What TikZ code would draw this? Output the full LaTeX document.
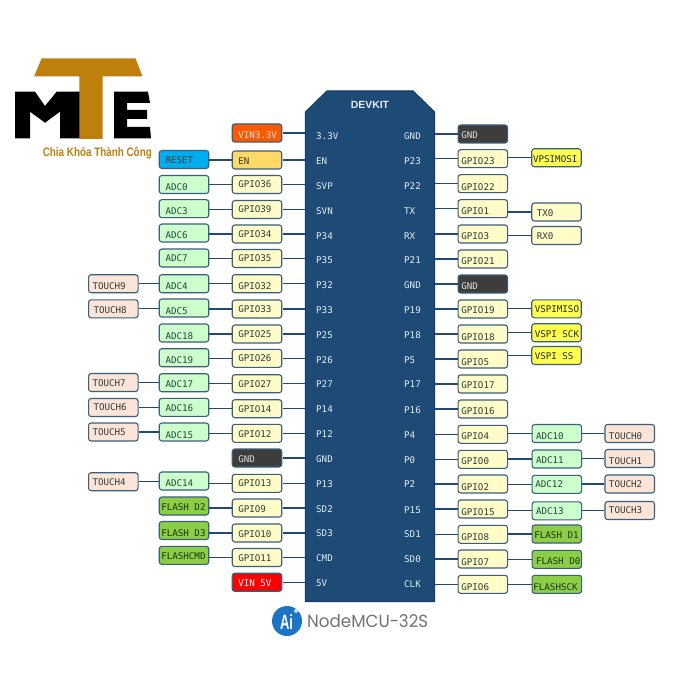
\documentclass[tikz,border=0pt]{standalone}
\usepackage{fontspec}
\usepackage{graphicx}
\setmainfont{Liberation Sans}
\setmonofont{DejaVu Sans Mono}
\newfontfamily\nmcufont{Poppins}
\definecolor{boardc}{HTML}{1D4B76}
\definecolor{boardl}{HTML}{123F6B}
\definecolor{edgec}{HTML}{3A5F7C}
\definecolor{wirec}{HTML}{1F4A78}
\definecolor{txtc}{HTML}{2E3B3B}
\definecolor{adctxt}{HTML}{24473A}
\definecolor{flashtxt}{HTML}{1C3310}
\definecolor{pinc}{HTML}{E6EDF2}
\definecolor{logoc}{HTML}{BE7F0C}
\definecolor{tchc}{HTML}{FCE4D6}
\definecolor{flashc}{HTML}{8CCF47}
\definecolor{yelc}{HTML}{FFFF4D}
\definecolor{enc}{HTML}{FFD966}
\definecolor{resc}{HTML}{00AEEF}
\definecolor{aic}{HTML}{1B75C4}
\newcommand{\lbl}[3]{\makebox[49.5pt][l]{\hspace*{#1pt}\raisebox{-#2pt}{#3}}}
\tikzset{
 anybox/.style={draw=edgec,line width=1.1pt,rounded corners=2.6pt,minimum width=49.5pt,minimum height=18pt,inner sep=0pt,text height=7pt,text depth=0.3pt,font=\ttfamily\fontsize{9.2}{10}\selectfont,text=txtc},
 gp/.style={anybox,fill=yellow!22},
 adcb/.style={anybox,fill=green!20,text=adctxt},
 tchb/.style={anybox,fill=tchc},
 flb/.style={anybox,fill=flashc,text=flashtxt},
 yelb/.style={anybox,fill=yelc,text=black!85},
 gndb/.style={anybox,fill=black!76,text=white!88!black},
 vinb/.style={anybox,fill=orange!70!red,text=white!90!black,line width=1.2pt},
 vinfb/.style={anybox,fill=red,text=white,line width=1.2pt},
 enb/.style={anybox,fill=enc},
 resetb/.style={anybox,fill=resc},
 pinl/.style={anchor=base west,inner sep=0pt,yshift=-0.5pt,text=pinc,font=\ttfamily\fontsize{9.2}{10}\selectfont},
 wire/.style={draw=wirec,line width=1.2pt},
 wirel/.style={wire,shorten <=1pt},
}
\begin{document}
\begin{tikzpicture}[x=1pt,y=-1pt]
\useasboundingbox (0,0) rectangle (700,700);
\fill[white] (0,0) rectangle (700,700);
% logo
\fill[black] (15,91.7) -- (35,91.7) -- (45,106) -- (56.7,91.7) -- (85,91.7) -- (85,138.3) -- (60,138.3) -- (60,111.7) -- (45,122.7) -- (30,111.7) -- (30,138.3) -- (15,138.3) -- cycle;
\fill[black] (114,91.7) -- (148,91.7) -- (150,103) -- (127,103) -- (127,110) -- (147,110) -- (147,119) -- (127,119) -- (127,127) -- (150,127) -- (151,138.3) -- (114,138.3) -- cycle;
\fill[logoc] (41.7,58.3) -- (135.5,58.3) -- (142.5,76.5) -- (102.7,76.5) -- (102.7,138.8) -- (79.3,138.8) -- (79.3,76.5) -- (34,76.5) -- cycle;
\node[inner sep=0pt,text=logoc] (slogan) at (97.3,153.5) {\resizebox{109pt}{9.2pt}{\bfseries Chia Khóa Thành Công}};
% board
\fill[boardc,draw=boardl,line width=1.2pt] (305.5,112) -- (327,91) -- (413,91) -- (434.5,112) -- (434.5,601.5) -- (305.5,601.5) -- cycle;
\node[minimum width=129pt,minimum height=510.5pt,inner sep=0pt] (board) at (370,346.3) {};
\node[inner sep=0pt,text=pinc,font=\bfseries\fontsize{10.4}{11}\selectfont] (devkit) at (370,104.5) {DEVKIT};
% pin names, left
\foreach \t/\y/\n in {3.3V/139/a,EN/164/b,SVP/189/c,SVN/214/d,P34/239/e,P35/263/f,P32/288/g,P33/313/h,P25/338/i,P26/363/j,P27/387/k,P14/412/l,P12/437/m,GND/462/n,P13/487/o,SD2/512/p,SD3/536/q,CMD/561/r,5V/586/s}
  \node[pinl] (pl\n) at (316,\y) {\t};
% pin names, right
\foreach \t/\y/\n in {GND/139/a,P23/164/b,P22/189/c,TX/214/d,RX/239/e,P21/263/f,GND/288/g,P19/313/h,P18/338/i,P5/363/j,P17/387/k,P16/413/l,P4/438/m,P0/463/n,P2/487/o,P15/513/p,SD1/537/q,SD0/562/r,CLK/587/s}
  \node[pinl] (pr\n) at (404,\y) {\t};
% left column: next to board
\node[vinb]  (la) at (257,133)   {\lbl{6}{2}{VIN3.3V}};
\node[enb]   (lb) at (257,160)   {\lbl{6}{1}{EN}};
\node[gp]    (lc) at (257,184.5) {\lbl{6}{0}{GPIO36}};
\node[gp]    (ld) at (257,209.5) {\lbl{6}{0}{GPIO39}};
\node[gp]    (le) at (257,234)   {\lbl{6}{0}{GPIO34}};
\node[gp]    (lf) at (257,258.5) {\lbl{6}{0}{GPIO35}};
\node[gp]    (lg) at (257,283.7) {\lbl{6}{2}{GPIO32}};
\node[gp]    (lh) at (257,309)   {\lbl{6}{0}{GPIO33}};
\node[gp]    (li) at (257,334)   {\lbl{6}{0}{GPIO25}};
\node[gp]    (lj) at (257,358.3) {\lbl{6}{0}{GPIO26}};
\node[gp]    (lk) at (257,383.7) {\lbl{6}{0}{GPIO27}};
\node[gp]    (ll) at (257,408.7) {\lbl{6}{0}{GPIO14}};
\node[gp]    (lm) at (257,433.3) {\lbl{6}{1}{GPIO12}};
\node[gndb]  (ln) at (257,458)   {\lbl{6}{1}{GND}};
\node[gp]    (lo) at (257,483.3) {\lbl{6}{0}{GPIO13}};
\node[gp]    (lp) at (257,508)   {\lbl{6}{1.3}{GPIO9}};
\node[gp]    (lq) at (257,533)   {\lbl{6}{0.7}{GPIO10}};
\node[gp]    (lr) at (257,557.5) {\lbl{6}{1}{GPIO11}};
\node[vinfb] (ls) at (257,582.3) {\lbl{6}{0.7}{VIN 5V}};
% left column: second
\node[resetb] (mb) at (184,159.5) {\lbl{6.3}{1}{RESET}};
\node[adcb] (mc) at (184,184.5) {\lbl{6.3}{2.7}{ADC0}};
\node[adcb] (md) at (184,208.7) {\lbl{6.3}{2.3}{ADC3}};
\node[adcb] (me) at (184,233)   {\lbl{6.3}{2.5}{ADC6}};
\node[adcb] (mf) at (184,258)   {\lbl{6.3}{0.5}{ADC7}};
\node[adcb] (mg) at (184,283.7) {\lbl{6.3}{2}{ADC4}};
\node[adcb] (mh) at (184,308)   {\lbl{6.3}{2.7}{ADC5}};
\node[adcb] (mi) at (184,333)   {\lbl{6.3}{2.7}{ADC18}};
\node[adcb] (mj) at (184,357.7) {\lbl{6.3}{2.3}{ADC19}};
\node[adcb] (mk) at (184,382.7) {\lbl{6.3}{1.7}{ADC17}};
\node[adcb] (ml) at (184,407.3) {\lbl{6.3}{1}{ADC16}};
\node[adcb] (mm) at (184,432)   {\lbl{6.3}{2.7}{ADC15}};
\node[adcb] (mo) at (184,481)   {\lbl{6.3}{2.3}{ADC14}};
\node[flb]  (mp) at (184,506)   {\lbl{2}{0.7}{FLASH D2}};
\node[flb]  (mq) at (184,530.5) {\lbl{2}{2.3}{FLASH D3}};
\node[flb]  (mr) at (184,555.3) {\lbl{2}{0.7}{FLASHCMD}};
% left column: outer
\node[tchb] (tg) at (113.3,283.7) {\lbl{4}{2.3}{TOUCH9}};
\node[tchb] (th) at (113.3,308.8) {\lbl{5}{1.8}{TOUCH8}};
\node[tchb] (tk) at (113.3,382.5) {\lbl{4}{1}{TOUCH7}};
\node[tchb] (tl) at (113.3,407.5) {\lbl{5}{0}{TOUCH6}};
\node[tchb] (tm) at (113.3,432)   {\lbl{4}{0}{TOUCH5}};
\node[tchb] (to) at (113.3,481.7) {\lbl{4}{0}{TOUCH4}};
% right column: next to board
\node[gndb] (ra) at (482.8,134)   {\lbl{3.3}{1.3}{GND}};
\node[gp]   (rb) at (482.8,158.7) {\lbl{3.3}{2}{GPIO23}};
\node[gp]   (rc) at (482.8,183.7) {\lbl{3.3}{3}{GPIO22}};
\node[gp]   (rd) at (482.8,208.7) {\lbl{3.3}{2}{GPIO1}};
\node[gp]   (re) at (482.8,234)   {\lbl{3.3}{2.3}{GPIO3}};
\node[gp]   (rf) at (482.8,259)   {\lbl{3.3}{1.7}{GPIO21}};
\node[gndb] (rg) at (482.8,284)   {\lbl{3.3}{2}{GND}};
\node[gp]   (rh) at (482.8,309)   {\lbl{3.3}{1.3}{GPIO19}};
\node[gp]   (ri) at (482.8,334)   {\lbl{3.3}{2.7}{GPIO18}};
\node[gp]   (rj) at (482.8,359)   {\lbl{3.3}{2.7}{GPIO5}};
\node[gp]   (rk) at (482.8,384)   {\lbl{3.3}{1}{GPIO17}};
\node[gp]   (rl) at (482.8,409)   {\lbl{3.3}{2.3}{GPIO16}};
\node[gp]   (rm) at (482.8,434.3) {\lbl{3.3}{1.7}{GPIO4}};
\node[gp]   (rn) at (482.8,459.3) {\lbl{3.3}{2}{GPIO0}};
\node[gp]   (ro) at (482.8,484)   {\lbl{3.3}{2.7}{GPIO2}};
\node[gp]   (rp) at (482.8,509)   {\lbl{3.3}{2.7}{GPIO15}};
\node[gp]   (rq) at (482.8,534.3) {\lbl{3.3}{3}{GPIO8}};
\node[gp]   (rr) at (482.8,559)   {\lbl{3.3}{2.7}{GPIO7}};
\node[gp]   (rs) at (482.8,584.3) {\lbl{3.3}{2.7}{GPIO6}};
% right column: second
\node[yelb] (sb) at (556.5,157.8) {\lbl{1.3}{1.7}{VPSIMOSI}};
\node[gp]   (sd) at (556.5,212)   {\lbl{5}{1.3}{TX0}};
\node[gp]   (se) at (556.5,235.5) {\lbl{5}{0.7}{RX0}};
\node[yelb] (sh) at (556.5,308.8) {\lbl{3}{0.3}{VSPIMISO}};
\node[yelb] (si) at (556.5,332.7) {\lbl{3}{1.7}{VSPI SCK}};
\node[yelb] (sj) at (556.5,355.5) {\lbl{3}{0.7}{VSPI SS}};
\node[adcb] (sm) at (556.8,433.5) {\lbl{4}{2.3}{ADC10}};
\node[adcb] (sn) at (556.8,459)   {\lbl{4}{1.3}{ADC11}};
\node[adcb] (so) at (556.8,484.3) {\lbl{3.3}{0}{ADC12}};
\node[adcb] (sp) at (556.8,510.8) {\lbl{4}{0.3}{ADC13}};
\node[flb]  (sq) at (556.8,534)   {\lbl{2.3}{0.8}{FLASH D1}};
\node[flb]  (sr) at (556.8,559.3) {\lbl{4}{2}{FLASH D0}};
\node[flb]  (ss) at (556.8,584.3) {\lbl{1.3}{2.7}{FLASHSCK}};
% right column: outer
\node[tchb] (um) at (629.7,433.5) {\lbl{4}{2.3}{TOUCH0}};
\node[tchb] (un) at (629.7,458.5) {\lbl{4}{2.3}{TOUCH1}};
\node[tchb] (uo) at (629.7,484)   {\lbl{4}{0}{TOUCH2}};
\node[tchb] (up) at (629.7,510.5) {\lbl{4}{0}{TOUCH3}};
% connectors
\foreach \n in {a,...,s} {
  \draw[wirel] (l\n.east) -- (l\n.east -| board.west);
  \draw[wire] (r\n.west) -- (r\n.west -| board.east);
}
\foreach \n in {b,c,d,e,f,g,h,i,j,k,l,m,o,p,q,r}
  \draw[wire] (l\n.west) -- (l\n.west -| m\n.east);
\foreach \n in {g,h,k,l,m,o}
  \draw[wire] (t\n.east) -- (t\n.east -| m\n.west);
\foreach \n in {b,d,e,h,i,j,m,n,o,p,q,r,s}
  \draw[wire] (s\n.west) -- (s\n.west -| r\n.east);
\foreach \n in {m,n,o,p}
  \draw[wire] (u\n.west) -- (u\n.west -| s\n.east);
% NodeMCU mark
\fill[aic] (287,621) circle (15);
\fill[white,opacity=.75] (296,611) circle (2);
\node[inner sep=0pt,text=white,font=\bfseries] (ai) at (286.5,622) {\resizebox{13pt}{15pt}{Ai}};
\node[inner sep=0pt,text=black!55,anchor=west] (nmcu) at (307,621) {\resizebox{121pt}{13pt}{\nmcufont NodeMCU-32S}};
\end{tikzpicture}
\end{document}
